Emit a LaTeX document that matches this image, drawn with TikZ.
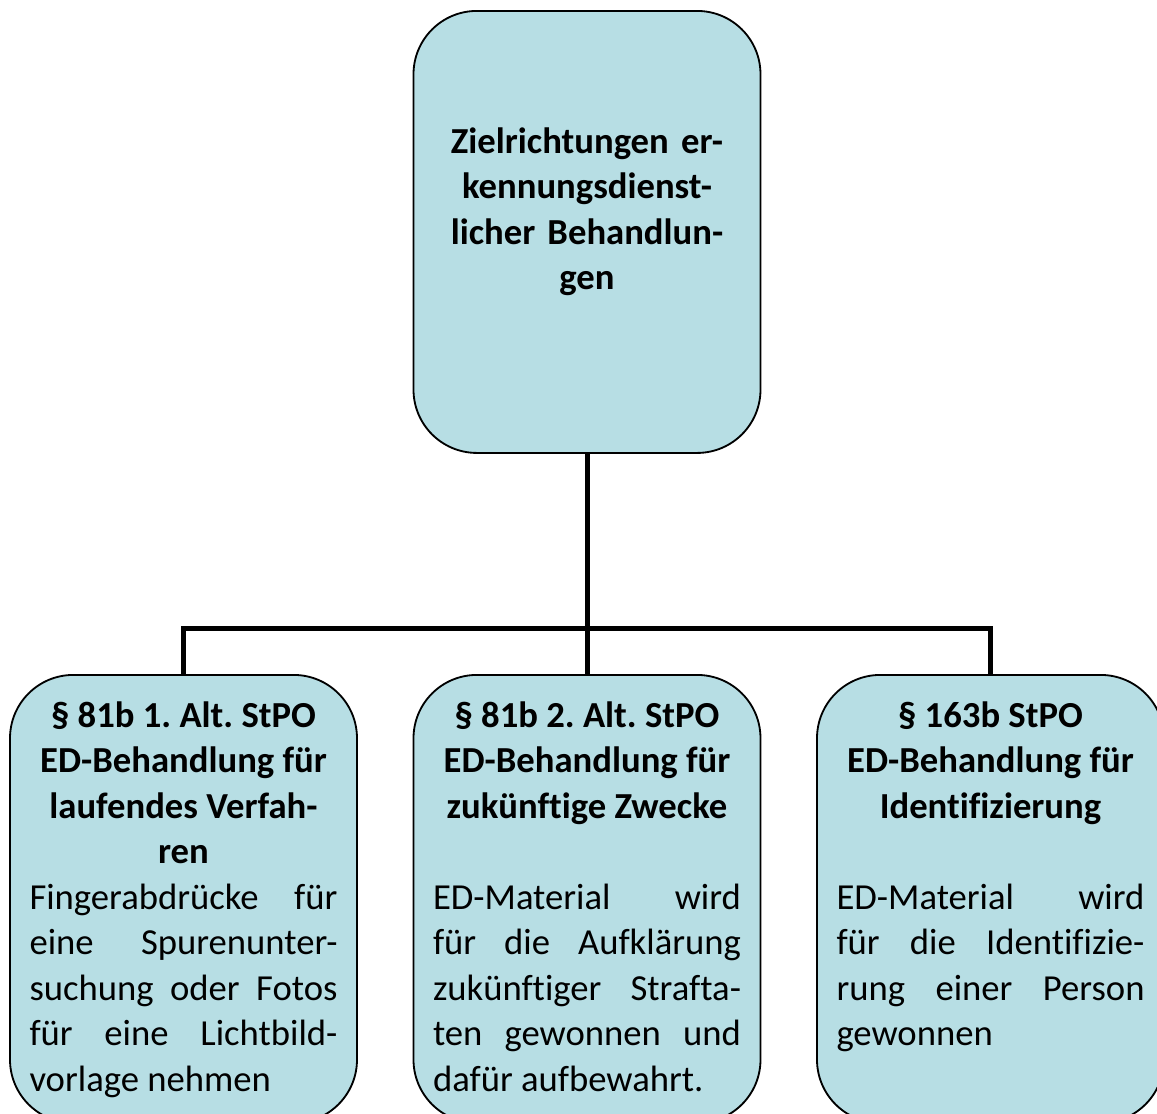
\documentclass[tikz,border=0pt]{standalone}
\usepackage{fontspec}
\setmainfont[Ligatures={NoCommon}]{Carlito}
\definecolor{kastenblau}{RGB}{183,222,228}
\hyphenpenalty=10000
\exhyphenpenalty=10000
\tolerance=10000
\hbadness=10000
\frenchspacing

\begin{document}
\begin{tikzpicture}[x=0.3pt, y=-0.3pt,
		kasten/.style={draw, line width=0.55pt, fill=kastenblau, rounded corners=19pt, minimum width=104.1pt, inner sep=0pt, anchor=north},
		schrift/.style={text width=92.4pt, inner sep=0pt, anchor=base, font=\fontsize{11pt}{13.65pt}\selectfont},
		verbinder/.style={line width=1.5pt}]
		\useasboundingbox (0, 0) rectangle (1157, 1113);
		%Kaesten
		\node[kasten, minimum height=132.6pt] (ziel) at (587, 10) {};
		\node[kasten, minimum height=134.4pt] (alt1) at (183.5, 674) {};
		\node[kasten, minimum height=134.4pt] (alt2) at (587, 674) {};
		\node[kasten, minimum height=134.4pt] (ident) at (990.5, 674) {};
		%Texte
		\node[schrift, align=center, font=\fontsize{11pt}{13.65pt}\selectfont\bfseries] (zieltext) at (587, 153)
			{Zielrichtungen er-\\ kennungsdienst-\\ licher Behandlun-\\ gen};
		\node[schrift, align=justify] (alt1text) at (183.5, 727)
			{{\centering\bfseries \S\ 81b 1. Alt. StPO\\ ED-Behandlung für\\ laufendes Verfah-\\ ren\par}
			Fingerabdrücke für\linebreak eine Spurenunter-\linebreak suchung oder Fotos\linebreak für eine Lichtbild-\linebreak vorlage nehmen};
		\node[schrift, align=justify] (alt2text) at (587, 727)
			{{\centering\bfseries \S\ 81b 2. Alt. StPO\\ ED-Behandlung für\\ zukünftige Zwecke\\ \mbox{}\par}
			ED-Material wird\linebreak für die Aufklärung\linebreak zukünftiger Strafta-\linebreak ten gewonnen und\linebreak dafür aufbewahrt.};
		\node[schrift, align=justify] (identtext) at (990.5, 727)
			{{\centering\bfseries \S\ 163b StPO\\ ED-Behandlung für\\ Identifizierung\\ \mbox{}\par}
			ED-Material wird\linebreak für die Identifizie-\linebreak rung einer Person\linebreak gewonnen};
		%Verbindungen
		\coordinate (verteiler) at (587, 628);
		\draw[verbinder] (ziel.south) -- (verteiler);
		\draw[verbinder] (verteiler) -- (alt2.north);
		\draw[verbinder] (alt1.north) -- (alt1.north |- verteiler) -- (ident.north |- verteiler) -- (ident.north);
	\end{tikzpicture}
\end{document}
